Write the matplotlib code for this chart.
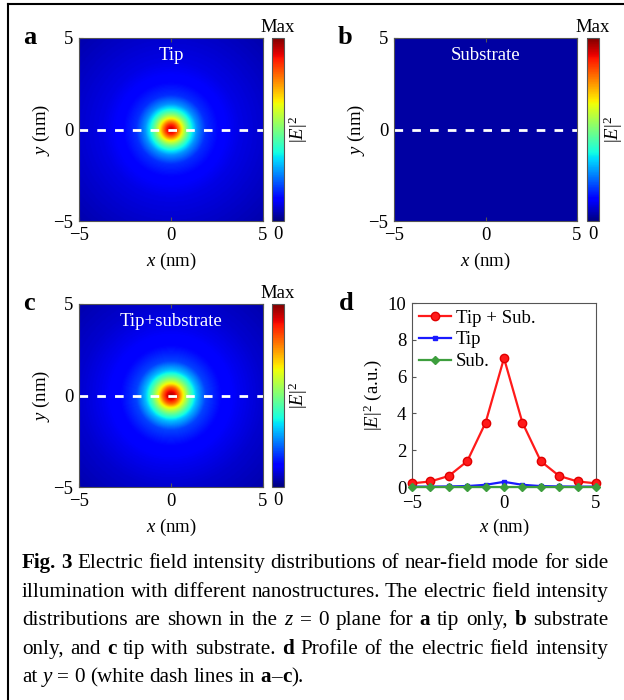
import re

import matplotlib
matplotlib.use('Agg')
import matplotlib.pyplot as plt
import numpy as np
from matplotlib.lines import Line2D
from matplotlib.cm import ScalarMappable
from matplotlib.colors import Normalize

plt.rcParams['font.family'] = ['Liberation Serif', 'DejaVu Serif']
plt.rcParams['mathtext.fontset'] = 'custom'
plt.rcParams['mathtext.rm'] = 'Liberation Serif'
plt.rcParams['mathtext.it'] = 'Liberation Serif:italic'
plt.rcParams['mathtext.bf'] = 'Liberation Serif:bold'

W, H = 624, 700
FS = 13.5

# radial |E|^2 profile of the maps, normalised to the colour bar (0 .. Max)
radius_nm = [0, 0.25, 0.45, 0.65, 0.85, 1.05, 1.4, 1.9, 2.7, 3.7, 5.0, 7.1]
tip_map_profile = [0.95, 0.88, 0.76, 0.62, 0.50, 0.40, 0.27, 0.17, 0.12, 0.09, 0.07, 0.04]
both_map_profile = [0.97, 0.90, 0.80, 0.66, 0.55, 0.45, 0.31, 0.19, 0.13, 0.10, 0.07, 0.04]
substrate_map_level = 0.035

# line profile at y = 0 (panel d)
profile_x = [-5, -4, -3, -2, -1, 0, 1, 2, 3, 4, 5]
tip_sub_profile = [0.2, 0.3, 0.6, 1.4, 3.5, 7.0, 3.5, 1.4, 0.6, 0.3, 0.2]
tip_profile = [0.02, 0.02, 0.03, 0.05, 0.12, 0.28, 0.12, 0.05, 0.03, 0.02, 0.02]
sub_profile = [0.0, 0.0, 0.0, 0.0, 0.0, 0.0, 0.0, 0.0, 0.0, 0.0, 0.0]
profile_labels = ['Tip + Sub.', 'Tip', 'Sub.']

caption = [
    "**Fig.** **3** Electric field intensity distributions of near-field mode for side",
    "illumination with different nanostructures. The electric field intensity",
    "distributions are shown in the *z* = 0 plane for **a** tip only, **b** substrate",
    "only, and **c** tip with substrate. **d** Profile of the electric field intensity",
    "at *y* = 0 (white dash lines in **a**–**c**).",
]

fig = plt.figure(figsize=(W / 100, H / 100), dpi=100)


def box(l, t, r, b):
    return [l / W, 1 - b / H, (r - l) / W, (b - t) / H]


def make_field(profile):
    g = np.linspace(-5, 5, 201)
    xx, yy = np.meshgrid(g, g)
    return np.interp(np.hypot(xx, yy), radius_nm, profile)


def style_axes(ax):
    ax.tick_params(direction='in', top=True, right=True, length=3, width=0.8,
                   color='#555555', labelsize=FS, pad=4)
    for s in ax.spines.values():
        s.set_color('#555555')
        s.set_linewidth(0.8)


def heat_panel(rect, crect, field, name, letter):
    ax = fig.add_axes(box(*rect))
    ax.imshow(field, extent=(-5, 5, -5, 5), origin='lower', cmap='jet',
              vmin=0, vmax=1, interpolation='bilinear', aspect='auto')
    ax.axhline(0, color='white', lw=2, ls=(0, (3.1, 3.3)))
    ax.set_xlim(-5, 5)
    ax.set_ylim(-5, 5)
    ax.set_xticks([-5, 0, 5])
    ax.set_yticks([-5, 0, 5])
    style_axes(ax)
    ax.set_xlabel('$x$ (nm)', fontsize=FS, labelpad=5)
    ax.set_ylabel('$y$ (nm)', fontsize=FS, labelpad=1)
    ax.text(0, 4.05, name, color='white', ha='center', va='center', fontsize=FS)
    ax.text(-0.27, 1.0, letter, transform=ax.transAxes, fontsize=19,
            fontweight='bold', ha='center', va='center')

    cax = fig.add_axes(box(*crect))
    cb = fig.colorbar(ScalarMappable(Normalize(0, 1), cmap='jet'), cax=cax)
    cb.set_ticks([])
    cb.outline.set_edgecolor('#555555')
    cb.outline.set_linewidth(0.8)
    cax.text(0.5, 1.01, 'Max', transform=cax.transAxes, ha='center',
             va='bottom', fontsize=FS)
    cax.text(0.5, -0.03, '0', transform=cax.transAxes, ha='center',
             va='top', fontsize=FS)
    cax.set_ylabel('$|E|^2$', fontsize=FS, labelpad=2)
    return ax


heat_panel((79, 38, 263, 221), (272, 38, 284, 221),
           make_field(tip_map_profile), 'Tip', 'a')
heat_panel((394, 38, 577, 221), (587, 38, 599, 221),
           np.full((201, 201), substrate_map_level), 'Substrate', 'b')
heat_panel((79, 304, 263, 487), (272, 304, 284, 487),
           make_field(both_map_profile), 'Tip+substrate', 'c')

# panel d
axd = fig.add_axes(box(412, 303, 596, 487))
axd.plot(profile_x, tip_sub_profile, '-o', color='#ff1a1a', lw=1.6, ms=6,
         mec='#e00000', clip_on=False, zorder=3, label=profile_labels[0])
axd.plot(profile_x, tip_profile, '-s', color='#1a1aff', lw=1.6, ms=3.5,
         clip_on=False, zorder=4, label=profile_labels[1])
axd.plot(profile_x, sub_profile, '-D', color='#3d9e3d', lw=1.6, ms=4,
         clip_on=False, zorder=5, label=profile_labels[2])
axd.set_xlim(-5, 5)
axd.set_ylim(0, 10)
axd.set_xticks([-5, 0, 5])
axd.set_yticks([0, 2, 4, 6, 8, 10])
style_axes(axd)
axd.tick_params(top=False, right=False)
axd.tick_params(axis='x', pad=6)
axd.set_xlabel('$x$ (nm)', fontsize=FS, labelpad=3)
axd.set_ylabel('$|E|^2$ (a.u.)', fontsize=FS, labelpad=3)
axd.legend(loc='upper left', bbox_to_anchor=(0.02, 0.985), frameon=False,
           fontsize=FS, handlelength=1.7, handletextpad=0.25, labelspacing=0.25,
           borderaxespad=0, borderpad=0.2)
axd.text(-0.36, 1.0, 'd', transform=axd.transAxes, fontsize=19,
         fontweight='bold', ha='center', va='center')

# frame of the figure page
fig.add_artist(Line2D([8 / W, 8 / W], [0, 1 - 3.5 / H], color='black', lw=1.5,
                      transform=fig.transFigure))
fig.add_artist(Line2D([8 / W, 1], [1 - 3.5 / H, 1 - 3.5 / H], color='black',
                      lw=1.5, transform=fig.transFigure))

# justified caption
CFS = 15.2
renderer = fig.canvas.get_renderer()
x_left, x_right = 22, 608
baselines = [568, 597, 625, 654, 682]


def parse_word(word):
    parts = []
    for p in re.split(r'(\*\*[^*]+\*\*|\*[^*]+\*)', word):
        if not p:
            continue
        if p.startswith('**'):
            parts.append((p[2:-2], 'bold', 'normal'))
        elif p.startswith('*'):
            parts.append((p[1:-1], 'normal', 'italic'))
        else:
            parts.append((p, 'normal', 'normal'))
    return parts


space_w = 0.25 * CFS * 100 / 72

for i, (line, yb) in enumerate(zip(caption, baselines)):
    words = []
    for w in line.split(' '):
        arts = []
        for txt, wt, st in parse_word(w):
            t = fig.text(0, 1 - yb / H, txt, fontsize=CFS, fontweight=wt,
                         fontstyle=st, va='baseline', ha='left')
            arts.append((t, t.get_window_extent(renderer).width))
        words.append(arts)
    total = sum(wd for arts in words for _, wd in arts)
    if i < len(caption) - 1:
        gap = (x_right - x_left - total) / (len(words) - 1)
    else:
        gap = space_w
    x = x_left
    for arts in words:
        for t, wd in arts:
            t.set_x(x / W)
            x += wd
        x += gap

fig.savefig('out.png', dpi=100)
